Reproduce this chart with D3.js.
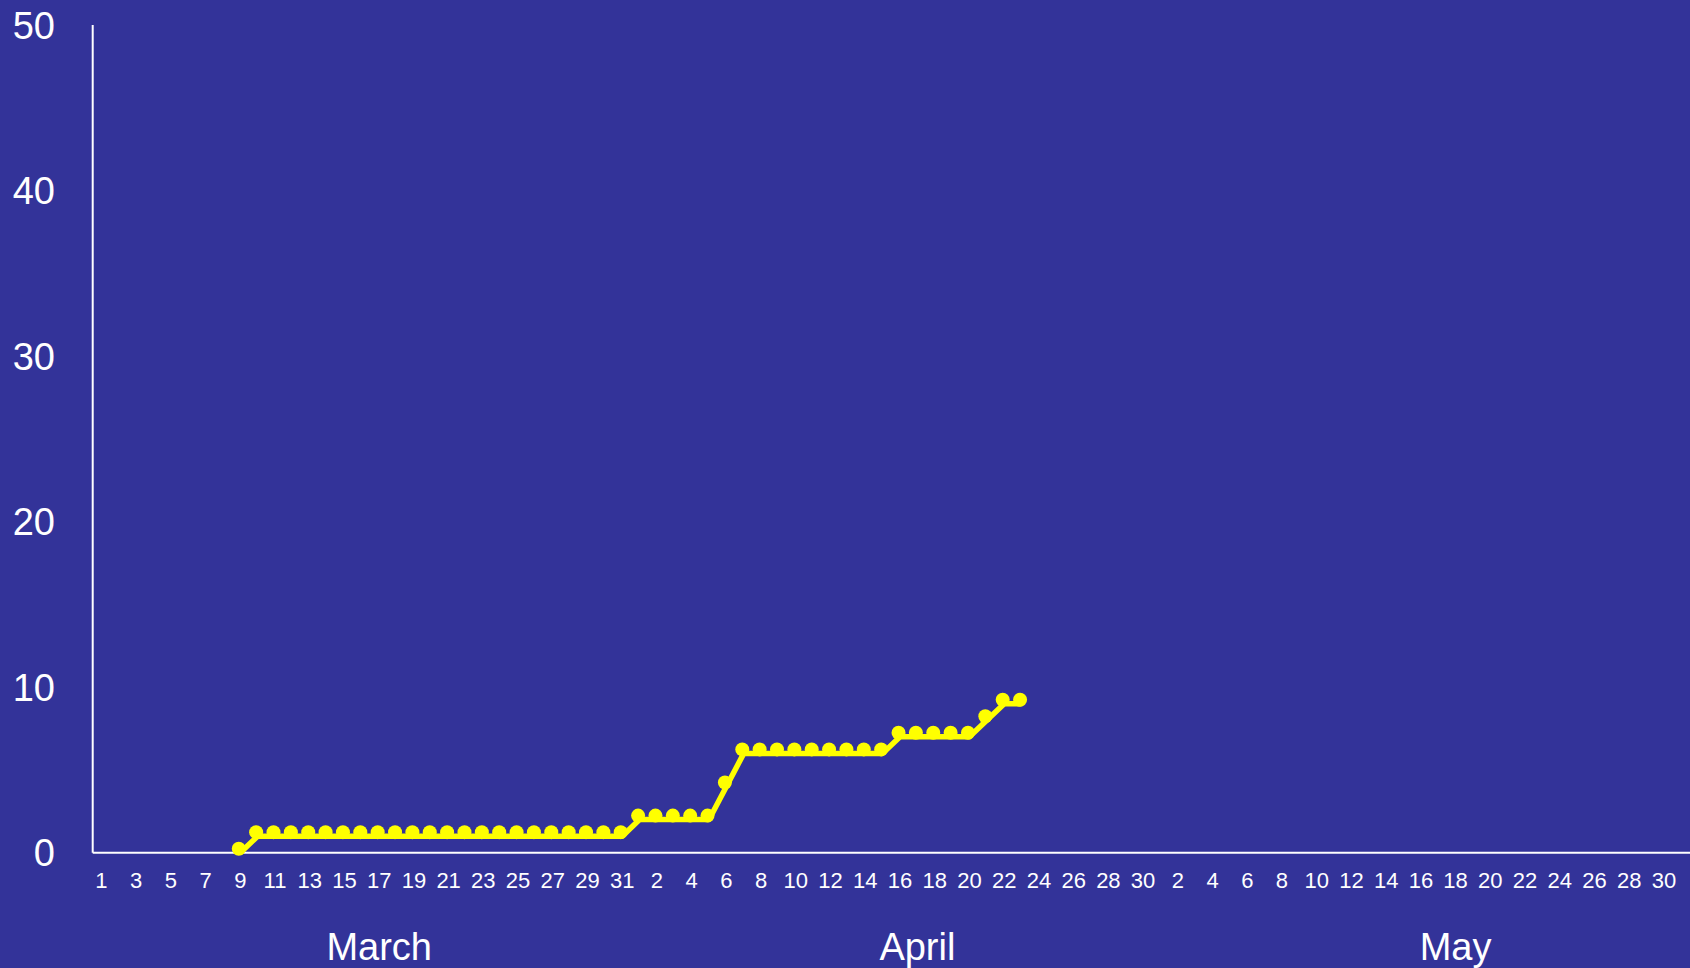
<!DOCTYPE html>
<html>
<head>
<meta charset="utf-8">
<script src="https://cdn.jsdelivr.net/npm/d3@7"></script>
<style>
  body { margin: 0; background: #333399; }
  svg { display: block; }
  text { font-family: "Liberation Sans", Arial, sans-serif; fill: #ffffff; }
</style>
</head>
<body>
<div id="chart"></div>
<script>
// months on the x axis
var months = ["March", "April", "May"];
var monthLengths = [31, 30, 31];
var monthLabelDay = [17, 17, 18];   // day each month name sits under

// y axis ticks
var yTicks = [0, 10, 20, 30, 40, 50];

// series starts on March 9 (one value per day)
var startMonth = 0, startDay = 9;
var values = [
  0,
  1, 1, 1, 1, 1, 1, 1, 1, 1, 1, 1, 1, 1, 1, 1, 1, 1, 1, 1, 1, 1, 1,  // Mar 10 - 31
  2, 2, 2, 2, 2,        // Apr 1 - 5
  4,                    // Apr 6
  6, 6, 6, 6, 6, 6, 6, 6, 6,   // Apr 7 - 15
  7, 7, 7, 7, 7,        // Apr 16 - 20
  8,                    // Apr 21
  9, 9                  // Apr 22 - 23
];

var W = 1690, H = 968;
var plotLeft = 92.7, plotRight = 1690, plotTop = 25, plotBottom = 852.7;

// build day categories
var days = [];
months.forEach(function (m, mi) {
  for (var d = 1; d <= monthLengths[mi]; d++) days.push({month: mi, day: d, key: mi + "-" + d});
});
var dayIndex = {};
days.forEach(function (d, i) { dayIndex[d.key] = i; });

var x = d3.scaleBand().domain(days.map(function (d) { return d.key; })).range([plotLeft, plotRight]).padding(0);
var y = d3.scaleLinear().domain([0, 50]).range([plotBottom, plotTop]);
var cx = function (key) { return x(key) + x.bandwidth() / 2; };

var svg = d3.select("#chart").append("svg")
    .attr("width", W)
    .attr("height", H);

svg.append("rect").attr("width", W).attr("height", H).attr("fill", "#333399");

// axes lines
svg.append("line")
    .attr("x1", plotLeft).attr("x2", plotLeft)
    .attr("y1", plotTop).attr("y2", plotBottom)
    .attr("stroke", "#ffffff").attr("stroke-width", 2);
svg.append("line")
    .attr("x1", plotLeft).attr("x2", plotRight)
    .attr("y1", plotBottom).attr("y2", plotBottom)
    .attr("stroke", "#ffffff").attr("stroke-width", 2);

// y labels
svg.selectAll(".ylab").data(yTicks).enter().append("text")
    .attr("class", "ylab")
    .attr("x", 55)
    .attr("y", function (d) { return y(d) + 13.5; })
    .attr("text-anchor", "end")
    .attr("font-size", "38px")
    .text(function (d) { return d; });

// day labels, every other day
svg.selectAll(".xlab").data(days.filter(function (d, i) { return i % 2 == 0; })).enter().append("text")
    .attr("class", "xlab")
    .attr("x", function (d) { return cx(d.key); })
    .attr("y", 888)
    .attr("text-anchor", "middle")
    .attr("font-size", "22px")
    .text(function (d) { return d.day; });

// month names
svg.selectAll(".mlab").data(months).enter().append("text")
    .attr("class", "mlab")
    .attr("x", function (d, i) { return cx(i + "-" + monthLabelDay[i]); })
    .attr("y", 960)
    .attr("text-anchor", "middle")
    .attr("font-size", "38px")
    .text(function (d) { return d; });

// series points
var s0 = dayIndex[startMonth + "-" + startDay];
var points = values.map(function (v, i) { return {key: days[s0 + i].key, value: v}; });

var line = d3.line()
    .x(function (d) { return cx(d.key); })
    .y(function (d) { return y(d.value); });

svg.append("path")
    .datum(points)
    .attr("d", line)
    .attr("fill", "none")
    .attr("stroke", "#ffff00")
    .attr("stroke-width", 5.5)
    .attr("stroke-linejoin", "round");

// markers sit a touch up-left of the line
svg.append("g").attr("transform", "translate(-1.5,-4)")
  .selectAll("circle").data(points).enter().append("circle")
    .attr("cx", function (d) { return cx(d.key); })
    .attr("cy", function (d) { return y(d.value); })
    .attr("r", 7)
    .attr("fill", "#ffff00");
</script>
</body>
</html>
